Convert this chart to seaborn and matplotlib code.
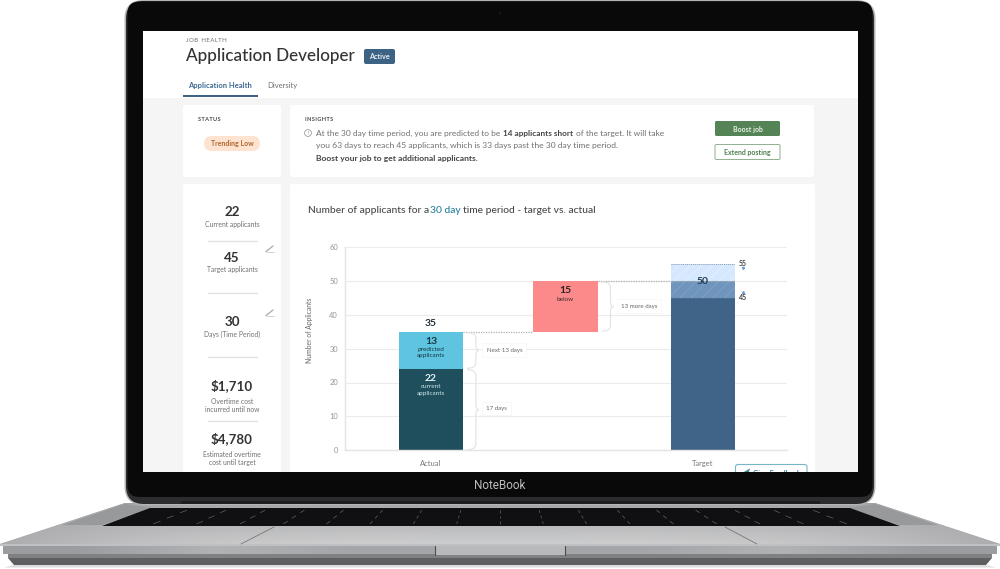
import numpy as np
import pandas as pd
import matplotlib
matplotlib.use("Agg")
import matplotlib.pyplot as plt
import seaborn as sns
from matplotlib.colors import LinearSegmentedColormap
from matplotlib.patches import Circle, FancyBboxPatch, PathPatch, Polygon, Rectangle
from matplotlib.path import Path

# chart values, bars are drawn to the height they have in the picture
categories = ["Actual", "", "Target"]
current_bar = [24, 0, 45]
predicted_bar = [11, 0, 0]
below_bottom = [0, 35, 0]
below_bar = [0, 15, 0]
target_band = [0, 0, 5]
target_upper = [0, 0, 5]
y_ticks = [0, 10, 20, 30, 40, 50, 60]

current_label = "22"
predicted_label = "13"
total_label = "35"
below_label = "15"
target_label = "50"
low_label = "45"
high_label = "55"

stats = [("22", ["Current applicants"], 212, 224.5),
         ("45", ["Target applicants"], 257.5, 269.5),
         ("30", ["Days (Time Period)"], 322, 334),
         ("$1,710", ["Overtime cost", "incurred until now"], 386, 401),
         ("$4,780", ["Estimated overtime", "cost until target"], 439, 454)]

sns.set_theme(style="white")
plt.rcParams["font.family"] = ["Lato", "DejaVu Sans"]
plt.rcParams["hatch.linewidth"] = 0.5

W, H = 1000, 569
fig = plt.figure(figsize=(10, 5.69), dpi=100)

# whole figure layer in pixels, y going down
bg = fig.add_axes([0, 0, 1, 1], zorder=0)
bg.set_xlim(0, W)
bg.set_ylim(H, 0)
bg.axis("off")


def box(x0, y0, x1, y1, color, r=2, ec="none", lw=0, z=2):
    p = FancyBboxPatch((x0 + r, y0 + r), x1 - x0 - 2 * r, y1 - y0 - 2 * r,
                       boxstyle=f"round,pad={r},rounding_size={r}",
                       fc=color, ec=ec, lw=lw, zorder=z)
    bg.add_patch(p)
    return p


def poly(pts, color, z=2):
    p = Polygon(pts, fc=color, ec="none", zorder=z)
    bg.add_patch(p)
    return p


def txt(x, y, s, size=6, color="#4a4a4a", weight="normal", ha="left"):
    return bg.text(x, y, s, fontsize=size, color=color, fontweight=weight, ha=ha, va="center", zorder=5)


def spaced(s):
    return "\u200a".join(s)


# base, drawn first so that the lid sits on it
poly([[8, 558], [992, 558], [986, 565], [14, 565]], "#5f5f61", 1.1)
poly([[14, 565], [986, 565], [996, 567.5], [4, 567.5]], "#dcdcdd", 1.05)
shape = poly([[125, 503], [875, 503], [1000, 544], [1000, 546], [0, 546], [0, 544]], "#b5b6b8", 1.2)
xx = np.abs(np.linspace(-1, 1, 200))
yy = np.linspace(0, 1, 40)
shade = 0.3 + 0.5 * yy[:, None] * (1 - xx[None, :] ** 3) + 0.1 * yy[:, None]
im = bg.imshow(shade, extent=(0, W, 546, 503), aspect="auto", zorder=1.3, vmin=0, vmax=1,
               cmap=LinearSegmentedColormap.from_list("metal", ["#8f9092", "#d6d6d7"]))
im.set_clip_path(shape)
bg.set_xlim(0, W)
bg.set_ylim(H, 0)
poly([[125, 504], [152, 508], [102, 525], [62, 525]], "#98999b", 1.4)
poly([[875, 504], [848, 508], [900, 525], [938, 525]], "#98999b", 1.4)

# front lip with the notch
lip = np.array([[0.55, 0.72, 0.62, 0.62, 0.62, 0.72, 0.55]])
bg.imshow(lip, extent=(3, 997, 554, 545.5), aspect="auto", zorder=1.5, vmin=0, vmax=1,
          cmap=LinearSegmentedColormap.from_list("lip", ["#55565a", "#d5d6d8"]), interpolation="bilinear")
bg.set_xlim(0, W)
bg.set_ylim(H, 0)
poly([[8, 554], [992, 554], [992, 558], [8, 558]], "#808183", 1.4)
poly([[0, 544], [1000, 544], [1000, 546], [0, 546]], "#bfc0c1", 1.6)
bg.add_patch(Rectangle((435, 546), 130, 9, fc="#b8b9bb", ec="none", zorder=1.7))
bg.plot([435, 435], [546, 555], color="#4c4c4e", lw=0.8, zorder=1.8)
bg.plot([565, 565], [546, 555], color="#4c4c4e", lw=0.8, zorder=1.8)

# keyboard
poly([[150, 508], [850, 508], [900, 526], [102, 526]], "#101012", 1.6)
for yk in [511.5, 517, 522.5]:
    for t in np.linspace(0.06, 0.94, 17):
        xk = 500 + (t - 0.5) * (700 + (yk - 508) * 5.5)
        lean = (xk - 500) * 0.01
        bg.plot([xk - lean, xk + lean], [yk - 1.2, yk + 1.2], color="#77777a", lw=0.4, zorder=1.7)
bg.plot([274, 241], [527, 544], color="#77787a", lw=0.6, zorder=1.7)
bg.plot([725, 757], [527, 544], color="#77787a", lw=0.6, zorder=1.7)

# lid
box(124.5, 0, 875.5, 505, "#b4b5b7", r=19, z=2)
box(126, 1, 874, 504, "#2c2c2e", r=18, z=2.1)
box(127.5, 1.5, 872.5, 497, "#090909", r=12, z=2.2)
bg.add_patch(Rectangle((181, 500.5), 639, 3, fc="#1d1d1f", ec="none", zorder=2.3))
bg.add_patch(Circle((500, 13), 0.8, fc="#2a2a30", ec="none", zorder=2.3))
bg.text(500, 485.5, "NoteBook", color="#bdbdbd", fontsize=8.5, ha="center", va="center",
        family="Roboto", zorder=3)

# screen
bg.add_patch(Rectangle((143, 31), 715, 441, fc="#ffffff", ec="none", zorder=3))
bg.add_patch(Rectangle((143, 98), 715, 374, fc="#f5f5f5", ec="none", zorder=3.1))
screen = Rectangle((143, 31), 715, 441, transform=bg.transData)
box(183, 105, 281, 177, "white", z=3.2)
box(290, 105, 814, 177, "white", z=3.2)
box(183, 184, 281, 480, "white", z=3.2).set_clip_path(screen)
box(290, 184, 815, 480, "white", z=3.2).set_clip_path(screen)

grey = "#4a4a4a"
soft = "#707070"
dark = "#454545"

txt(186, 40.5, spaced("JOB") + "  " + spaced("HEALTH"), 4.4, soft)
txt(186, 55.5, "Application Developer", 12.3, "#333333", "medium")
box(364, 49, 395, 64, "#3d6384", r=2, z=4)
txt(379.5, 56.5, "Active", 5.2, "#e8eef3", "bold", ha="center")
txt(188, 85.5, "Application Health", 5.5, "#3f6a94", "bold")
txt(267, 85.5, "Diversity", 5.5, soft)
bg.add_patch(Rectangle((182.5, 95), 75, 2, fc="#3d6384", ec="none", zorder=4))

txt(198, 119.5, spaced("STATUS"), 4.1, grey, "bold")
box(204, 136, 260, 151, "#fde3d0", r=7.5, z=4)
txt(232, 143.5, "Trending Low", 5, "#b5662a", "bold", ha="center")

txt(305, 119.5, spaced("INSIGHTS"), 4.1, grey, "bold")
bg.add_patch(Circle((308, 133), 3.4, fc="none", ec="#8a8a8a", lw=0.5, zorder=5))
txt(308, 133, "!", 3.5, "#8a8a8a", ha="center")
txt(316, 133, "At the 30 day time period, you are predicted to be", 6.0, soft)
txt(503, 133, "14 applicants short", 5.95, dark, "bold")
txt(575.5, 133, "of the target. It will take", 6.0, soft)
txt(316, 145.5, "you 63 days to reach 45 applicants, which is 33 days past the 30 day time period.", 6.1, soft)
txt(316, 158.5, "Boost your job to get additional applicants.", 6.1, dark, "bold")
box(715, 121, 780, 136, "#548455", r=1.5, z=4)
txt(747.5, 129, "Boost job", 5, "#e8f0e8", "bold", ha="center")
box(715, 144.5, 780, 159.5, "white", r=1.5, ec="#8fb08f", lw=0.7, z=4)
txt(747.5, 152, "Extend posting", 5, "#4f7f50", "bold", ha="center")

# left column
for big, small, y_big, y_small in stats:
    txt(232, y_big, big, 9.6, "#333333", "bold", ha="center")
    for i, line in enumerate(small):
        txt(232, y_small + i * 8.5, line, 4.9, soft, ha="center")
for y in [240.5, 293, 357, 421]:
    bg.plot([208, 257], [y, y], color="#e2e2e2", lw=1, zorder=5)
for y in [252, 316]:
    bg.plot([266, 274], [y, y], color="#c4c4c4", lw=0.5, zorder=5)
    bg.plot([266, 273], [y - 0.5, y - 6], color="#a8a8a8", lw=0.9, zorder=5)

# chart title
txt(308, 210, "Number of applicants for a", 7.4, "#484848", "medium")
txt(429.5, 210, "30 day", 7.4, "#257f9b", "medium")
txt(463, 210, "time period - target vs. actual", 7.4, "#484848", "medium")

# chart axes
x_px0, x_px1, y_px0, y_px60 = 345, 787, 450, 247.5
ax = fig.add_axes([x_px0 / W, 1 - y_px0 / H, (x_px1 - x_px0) / W, (y_px0 - y_px60) / H], zorder=2)
ax.patch.set_alpha(0)

df = pd.DataFrame({"cat": categories, "current": current_bar, "predicted": predicted_bar,
                   "below_bottom": below_bottom, "below": below_bar,
                   "band": target_band, "upper": target_upper})
df["band_bottom"] = df["current"]
df["upper_bottom"] = df["current"] + df["band"]
bar = dict(data=df, x="cat", ax=ax, width=0.476, saturation=1, order=categories, linewidth=0)
sns.barplot(y="current", color="#1f4f5c", **bar)
ax.patches[2].set_facecolor("#3f6487")
sns.barplot(y="predicted", bottom=df["current"], color="#5fc4df", **bar)
sns.barplot(y="below", bottom=df["below_bottom"], color="#fd8a8a", **bar)
ax.patches[-2].set_x(ax.patches[-2].get_x() - 0.012)
n = len(ax.patches)
sns.barplot(y="band", bottom=df["band_bottom"], color="#6f95bd", **bar)
ax.patches[n + 2].set_hatch("///")
ax.patches[n + 2].set_edgecolor("#83a5c9")
n = len(ax.patches)
sns.barplot(y="upper", bottom=df["upper_bottom"], color="#d6e8fd", **bar)
ax.patches[n + 2].set_hatch("///")
ax.patches[n + 2].set_edgecolor("#e6f1fe")

ax.set_xlim(-0.632, 2.618)
ax.set_ylim(0, 60)
ax.set_yticks(y_ticks)
ax.set_xlabel("")
ax.set_ylabel("Number of Applicants", fontsize=4.9, color="#666666")
ax.yaxis.set_label_coords(-0.0735, 0.593)
ax.tick_params(axis="y", length=0, labelsize=5.4, labelcolor="#959595", pad=5)
ax.tick_params(axis="x", length=0, labelsize=5.4, labelcolor="#777777", pad=7.5)
ax.grid(axis="y", color="#ececec", lw=0.8)
ax.set_axisbelow(True)
for s in ["top", "right"]:
    ax.spines[s].set_visible(False)
for s in ["left", "bottom"]:
    ax.spines[s].set_color("#e4e4e4")
    ax.spines[s].set_linewidth(1)

# labels inside bars
num = dict(ha="center", va="center", fontsize=7.5, fontweight="bold")
sub = dict(ha="center", va="center", fontsize=4.6, linespacing=1.35)
ax.text(0, 37.4, total_label, color="#24343c", **num)
ax.text(0, 32.1, predicted_label, color="#173845", **num)
ax.text(0, 28.8, "predicted\napplicants", color="#173845", **sub)
ax.text(0, 21.2, current_label, color="#dff2f5", **num)
ax.text(0, 17.8, "current\napplicants", color="#cfe6ea", **sub)
ax.text(0.988, 47.2, below_label, color="#2b2222", **num)
ax.text(0.988, 44.7, "below", color="#3a2a2a", **sub)
ax.text(2, 50, target_label, color="#1f3b54", zorder=6, **num)
side = dict(ha="center", va="center", fontsize=5, fontweight="bold", color="#444444")
ax.text(2.292, 55.3, high_label, **side)
ax.text(2.292, 45.2, low_label, **side)
ax.plot([2.292], [53.8], marker="v", ms=1.5, color="#6a9ad6", clip_on=False)
ax.plot([2.292], [46.8], marker="^", ms=1.5, color="#6a9ad6", clip_on=False)

# dotted connectors
dots = dict(color="#b0b0b0", lw=0.9, ls=(0, (1, 1)))
ax.plot([0.237, 0.752], [35, 35], **dots)
ax.plot([1.226, 2.237], [50, 50], **dots)
ax.hlines(55, 1.763, 2.237, color="#8f9aa5", lw=0.7, ls=(0, (1, 1)))
ax.hlines(45, 1.763, 2.237, color="#5f7f9f", lw=0.5, ls=(0, (1, 1)))


def brace(x, y0, y1, w=0.065):
    # curly bracket opening to the left, pointing right
    m = (y0 + y1) / 2
    dy = min(1.6, (y1 - y0) / 4)
    v = [(x, y1), (x + w, y1), (x + w, y1 - dy), (x + w, m + dy), (x + w, m), (x + w * 1.35, m),
         (x + w, m), (x + w, m - dy), (x + w, y0 + dy), (x + w, y0), (x, y0)]
    c = [Path.MOVETO, Path.CURVE3, Path.CURVE3, Path.LINETO, Path.CURVE3, Path.CURVE3,
         Path.CURVE3, Path.CURVE3, Path.LINETO, Path.CURVE3, Path.CURVE3]
    ax.add_patch(PathPatch(Path(v, c), fc="none", ec="#e2e2e2", lw=0.8, zorder=3))


brace(0.265, 24.2, 34.8)
brace(0.265, 0.1, 23.8)
brace(1.255, 35.2, 49.8)


def tag(x, y, s):
    ax.text(x, y, s, fontsize=4.4, color="#666666", ha="center", va="center", zorder=4,
            bbox=dict(boxstyle="square,pad=0.7", fc="white", ec="#f5f5f5", lw=0.5))


tag(0.54, 29.6, "Next 13 days")
tag(0.48, 12.3, "17 days")
tag(1.53, 42.6, "13 more days")

# feedback button cut by the bezel
box(735.5, 464.5, 807, 485, "white", r=2.5, ec="#76b6c6", lw=0.8, z=6).set_clip_path(screen)
plane = poly([[742, 473], [750, 468.5], [748, 475]], "#3f8296", 6.5)
plane.set_clip_path(screen)
ft = txt(776.5, 473, "Give Feedback", 5.2, "#3f8296", "bold", ha="center")
ft.set_zorder(7)
ft.set_clip_path(screen)
ft.set_clip_on(True)

fig.savefig("out.png", dpi=100, facecolor="white")
